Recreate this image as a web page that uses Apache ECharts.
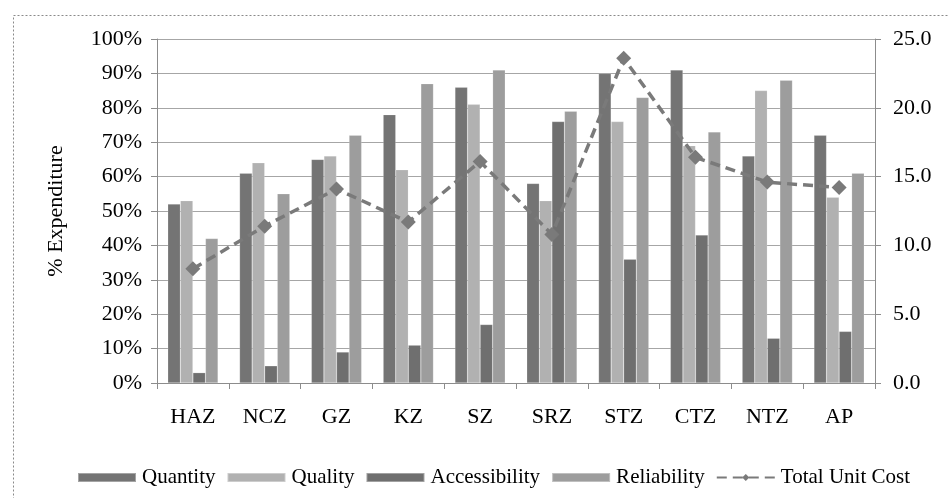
<!DOCTYPE html>
<html>
<head>
<meta charset="utf-8">
<script src="https://cdn.jsdelivr.net/npm/echarts@6/dist/echarts.min.js"></script>
<style>
html,body{margin:0;padding:0;background:#fff;}
#c{width:948px;height:498px;}
</style>
</head>
<body>
<div id="c"></div>
<script>
const categories = ['HAZ','NCZ','GZ','KZ','SZ','SRZ','STZ','CTZ','NTZ','AP'];
const quantity = [52,61,65,78,86,58,90,91,66,72];
const quality = [53,64,66,62,81,53,76,69,85,54];
const accessibility = [3,5,9,11,17,76,36,43,13,15];
const reliability = [42,55,72,87,91,79,83,73,88,61];
const totalUnitCost = [8.3,11.4,14.1,11.7,16.1,10.8,23.6,16.4,14.6,14.2];
const leftTicks = {min:0,max:100,interval:10};
const rightTicks = {min:0,max:25,interval:5};

const font = 'Liberation Serif';
const chart = echarts.init(document.getElementById('c'));
const barSeries = (name, data, color) => ({
  name, type:'bar', data, yAxisIndex:0,
  barGap:'0%', barCategoryGap:'30%',
  itemStyle:{color, borderColor:'rgba(255,255,255,0.35)', borderWidth:0.5},
  emphasis:{disabled:true}
});
chart.setOption({
  animation:false,
  backgroundColor:'#fff',
  textStyle:{fontFamily:font},
  graphic:[{
    type:'rect', left:11, top:13, shape:{width:936, height:490},
    style:{fill:'none', stroke:'#8a8a8a', lineWidth:1, lineDash:[2,2]}
  }],
  grid:{left:157, right:73, top:39, bottom:115},
  legend:{
    top:462, left:72, itemWidth:58, itemHeight:9, itemGap:11,
    textStyle:{fontFamily:font, fontSize:21, color:'#000', padding:[0,0,0,1]},
    data:[
      {name:'Quantity', icon:'rect'},
      {name:'Quality', icon:'rect'},
      {name:'Accessibility', icon:'rect'},
      {name:'Reliability', icon:'rect'},
      {name:'Total Unit Cost'}
    ]
  },
  xAxis:{
    type:'category', data:categories, boundaryGap:true,
    axisLine:{lineStyle:{color:'#8c8c8c'}},
    axisTick:{show:true, length:6, lineStyle:{color:'#8c8c8c'}},
    axisLabel:{fontFamily:font, fontSize:22, color:'#000', margin:23}
  },
  yAxis:[{
    type:'value', min:leftTicks.min, max:leftTicks.max, interval:leftTicks.interval,
    name:'% Expenditure', nameLocation:'middle', nameGap:90, nameRotate:90,
    nameTextStyle:{fontFamily:font, fontSize:22, color:'#000'},
    axisLine:{show:true, lineStyle:{color:'#8c8c8c'}},
    axisTick:{show:true, length:6, lineStyle:{color:'#8c8c8c'}},
    splitLine:{lineStyle:{color:'#a6a6a6'}},
    axisLabel:{fontFamily:font, fontSize:22, color:'#000', margin:15, formatter:'{value}%'}
  },{
    type:'value', min:rightTicks.min, max:rightTicks.max, interval:rightTicks.interval,
    position:'right',
    axisLine:{show:true, lineStyle:{color:'#8c8c8c'}},
    axisTick:{show:true, length:6, lineStyle:{color:'#8c8c8c'}},
    splitLine:{show:false},
    axisLabel:{fontFamily:font, fontSize:22, color:'#000', margin:18, formatter:v=>v.toFixed(1)}
  }],
  series:[
    barSeries('Quantity', quantity, '#747474'),
    barSeries('Quality', quality, '#b1b1b1'),
    barSeries('Accessibility', accessibility, '#6f6f6f'),
    barSeries('Reliability', reliability, '#9d9d9d'),
    {
      name:'Total Unit Cost', type:'line', yAxisIndex:1, data:totalUnitCost,
      symbol:'diamond', symbolSize:15,
      lineStyle:{color:'#7a7a7a', width:3.5, type:[10,6]},
      itemStyle:{color:'#7a7a7a'},
      emphasis:{disabled:true}
    }
  ]
});
</script>
</body>
</html>
